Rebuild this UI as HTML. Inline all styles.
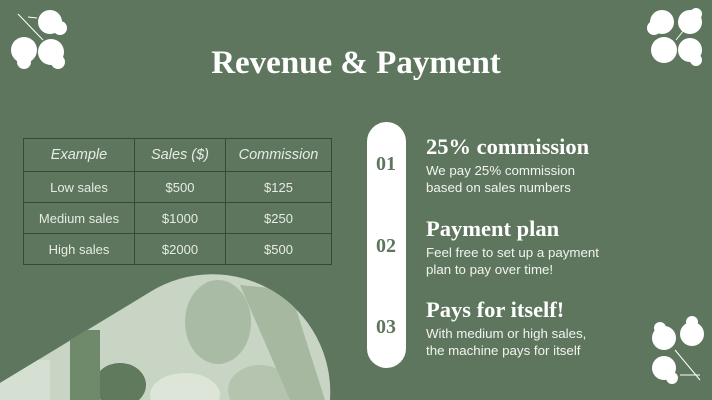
<!DOCTYPE html>
<html><head><meta charset="utf-8"><style>
body{margin:0;width:712px;height:400px;overflow:hidden;background:#5e765d;font-family:"Liberation Sans",sans-serif}
#s{position:relative;width:712px;height:400px;background:#5e765d}
.t{position:absolute;color:#fff}
table{position:absolute;left:23px;top:138px;border-collapse:collapse;color:#e6ece4;font-size:13px}
td{border:1px solid #344a33;text-align:center;height:30px;padding:0}
.serif{font-family:"Liberation Serif",serif;font-weight:bold}
.h{font-size:22.5px}
.b{font-size:13.3px;line-height:17px;color:#f2f4f0}
</style></head><body>
<div id="s">
<div class="t serif" style="left:0;width:712px;text-align:center;top:45px;font-size:33px">Revenue &amp; Payment</div>
<table>
<tr style="height:33px;font-style:italic;font-size:14.5px"><td style="width:110px">Example</td><td style="width:90px">Sales ($)</td><td style="width:105px">Commission</td></tr>
<tr><td>Low sales</td><td>$500</td><td>$125</td></tr>
<tr><td>Medium sales</td><td>$1000</td><td>$250</td></tr>
<tr><td>High sales</td><td>$2000</td><td>$500</td></tr>
</table>
<svg width="712" height="400" style="position:absolute;left:0;top:0">
<defs><clipPath id="c"><path d="M0,383 L150,292 A118,118 0 0 1 330,400 L0,400 Z"/></clipPath></defs>
<g clip-path="url(#c)">
<rect x="0" y="270" width="340" height="130" fill="#c8d5c4"/>
<ellipse cx="218" cy="322" rx="33" ry="42" fill="#a9bba4"/>
<ellipse cx="120" cy="385" rx="26" ry="22" fill="#5f7a5c"/>
<ellipse cx="185" cy="395" rx="35" ry="22" fill="#dce5d8"/>
<ellipse cx="260" cy="390" rx="32" ry="25" fill="#b4c4ae"/>
<rect x="70" y="330" width="30" height="70" fill="#6e8a6a"/>
<path d="M240,285 L290,290 L325,400 L290,400 Z" fill="#a6b8a0"/>
<rect x="0" y="360" width="50" height="40" fill="#d6e0d2"/>
</g>
<g fill="#fff">
<circle cx="50" cy="22" r="12"/><circle cx="60" cy="28" r="7"/>
<circle cx="24" cy="50" r="13"/><circle cx="24" cy="62" r="7"/>
<circle cx="51" cy="52" r="13"/><circle cx="58" cy="62" r="7"/>
<path d="M18,14 L43,40 M28,17 L37,18" stroke="#fff" stroke-width="1"/>
</g>
<g fill="#fff">
<circle cx="662" cy="22" r="12"/><circle cx="654" cy="28" r="7"/>
<circle cx="690" cy="22" r="12"/><circle cx="696" cy="14" r="6"/>
<circle cx="664" cy="50" r="13"/><circle cx="690" cy="50" r="12"/><circle cx="696" cy="60" r="6"/>
<path d="M700,10 L676,40" stroke="#fff" stroke-width="1"/>
</g>
<g fill="#fff">
<circle cx="664" cy="338" r="12"/><circle cx="660" cy="328" r="6"/>
<circle cx="692" cy="334" r="12"/><circle cx="692" cy="322" r="6"/>
<circle cx="664" cy="368" r="12"/><circle cx="672" cy="378" r="6"/>
<path d="M675,350 L700,380 M680,375 L700,375" stroke="#fff" stroke-width="1"/>
</g>
<rect x="367" y="122" width="39" height="246" rx="19.5" fill="#fff"/>
<g font-family="Liberation Serif,serif" font-weight="bold" font-size="20" fill="#5e765d" text-anchor="middle">
<text x="386" y="170">01</text>
<text x="386" y="252">02</text>
<text x="386" y="333">03</text>
</g>
</svg>
<div class="t serif h" style="left:426px;top:134px">25% commission</div>
<div class="t b" style="left:426px;top:162px">We pay 25% commission<br>based on sales numbers</div>
<div class="t serif h" style="left:426px;top:216px">Payment plan</div>
<div class="t b" style="left:426px;top:244px">Feel free to set up a payment<br>plan to pay over time!</div>
<div class="t serif h" style="left:426px;top:297px">Pays for itself!</div>
<div class="t b" style="left:426px;top:325px">With medium or high sales,<br>the machine pays for itself</div>
</div>
</body></html>
